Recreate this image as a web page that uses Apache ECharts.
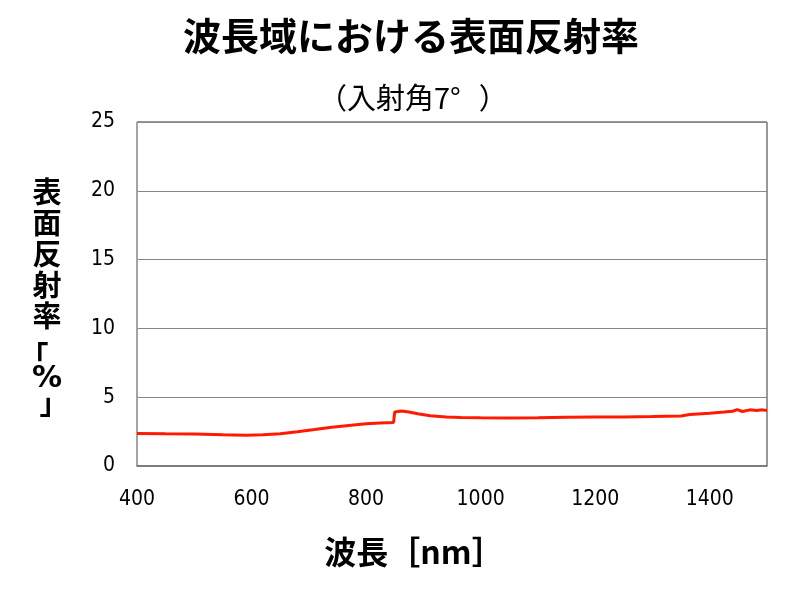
<!DOCTYPE html>
<html>
<head>
<meta charset="utf-8">
<script src="https://cdn.jsdelivr.net/npm/echarts@6/dist/echarts.min.js"></script>
<style>
  html, body { margin: 0; padding: 0; background: #fff; }
  #chart { width: 800px; height: 600px; }
</style>
</head>
<body>
<div id="chart"></div>
<script>
// Reflectance curve (wavelength nm → reflectance %)
const wavelengths = [400, 450, 500, 550, 590, 620, 650, 680, 710, 740, 770, 800, 825, 848,
  850, 862, 875, 890, 912, 940, 965, 1000, 1050, 1100, 1150, 1200, 1250, 1300, 1350,
  1365, 1400, 1425, 1440, 1448, 1457, 1470, 1482, 1492, 1500];
const reflectance = [2.37, 2.34, 2.32, 2.27, 2.24, 2.27, 2.35, 2.49, 2.65, 2.82, 2.95, 3.07, 3.13, 3.17,
  3.93, 4.00, 3.93, 3.80, 3.65, 3.56, 3.52, 3.50, 3.49, 3.50, 3.54, 3.56, 3.57, 3.60, 3.64,
  3.74, 3.84, 3.92, 3.98, 4.10, 3.96, 4.08, 4.04, 4.08, 4.03];

const titleText = '波長域における表面反射率';
const subtitleText = '{t|（入射角7°}{c|）}';
const xName = '波長［nm］';
const yNameLines = ['表', '面', '反', '射', '率', '{l|「}', '{p|%}', '{r|」}'];

const JP = '"Noto Sans CJK JP", "Noto Sans", sans-serif';
const NUM = '"DejaVu Sans Condensed", "DejaVu Sans", sans-serif';

const chart = echarts.init(document.getElementById('chart'));

chart.setOption({
  backgroundColor: '#fff',
  animation: false,
  title: [
    { text: titleText, left: 183, top: 17, padding: 0,
      textStyle: { fontFamily: JP, fontSize: 38, fontWeight: 'bold', color: '#000' } },
    { text: subtitleText, left: 318, top: 83, padding: 0,
      textStyle: { fontFamily: JP, fontSize: 29, fontWeight: 'normal', color: '#000',
        rich: {
          t: { fontFamily: JP, fontSize: 29, color: '#000' },
          c: { fontFamily: JP, fontSize: 29, color: '#000', padding: [0, 0, 0, 18] }
        } } }
  ],
  grid: { left: 137, right: 33, top: 122, bottom: 134, show: true, borderColor: '#333', borderWidth: 1 },
  xAxis: {
    type: 'value', min: 400, max: 1500, interval: 200,
    name: xName, nameLocation: 'middle', nameGap: 70,
    nameTextStyle: { fontFamily: JP, fontSize: 32, fontWeight: 'bold', color: '#000',
      padding: [0, 76, 0, 0] },
    axisLine: { show: true, lineStyle: { color: '#777', width: 1.5 } },
    axisTick: { show: false },
    splitLine: { show: false },
    axisLabel: { showMaxLabel: false, margin: 23, fontFamily: NUM, fontSize: 21, color: '#000',
      formatter: (v) => String(v) }
  },
  yAxis: {
    type: 'value', min: 0, max: 25, interval: 5,
    name: yNameLines.join('\n'), nameLocation: 'middle', nameRotate: 0, nameGap: 90,
    nameTextStyle: { fontFamily: JP, fontSize: 29, fontWeight: 'bold', color: '#000',
      align: 'center', lineHeight: 31,
      rich: {
        l: { fontFamily: JP, fontSize: 29, fontWeight: 'bold', lineHeight: 34, padding: [16, 26, 0, 0] },
        p: { fontFamily: '"DejaVu Sans", sans-serif', fontSize: 30, fontWeight: 'bold', lineHeight: 28 },
        r: { fontFamily: JP, fontSize: 29, fontWeight: 'bold', lineHeight: 18, padding: [0, 0, 0, 14] }
      } },
    axisLine: { show: true, lineStyle: { color: '#aaa', width: 1.5 } },
    axisTick: { show: false },
    splitLine: { show: true, lineStyle: { color: '#888', width: 1 } },
    axisLabel: { margin: 22, fontFamily: NUM, fontSize: 21, color: '#000' }
  },
  series: [{
    type: 'line',
    data: wavelengths.map((w, i) => [w, reflectance[i]]),
    showSymbol: false,
    smooth: false,
    lineStyle: { color: '#ff1a00', width: 3 }
  }]
});
</script>
</body>
</html>
